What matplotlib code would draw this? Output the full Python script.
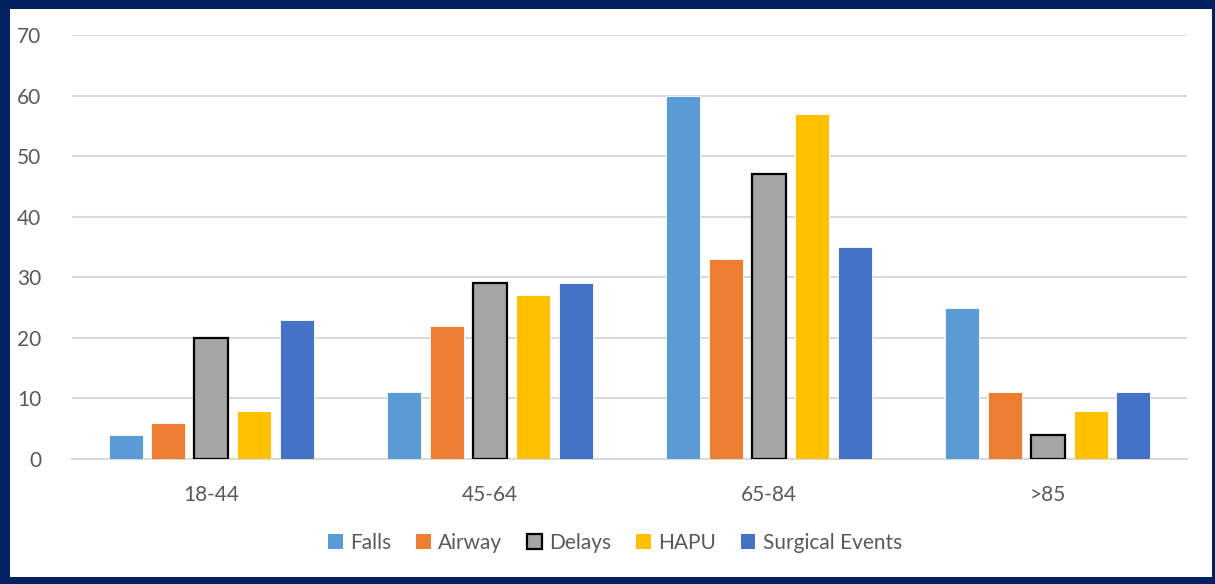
import matplotlib.pyplot as plt
from matplotlib.patches import Rectangle, Patch
import numpy as np

plt.rcParams['font.family'] = ['Lato', 'DejaVu Sans']

categories = ['18-44', '45-64', '65-84', '>85']
series = ['Falls', 'Airway', 'Delays', 'HAPU', 'Surgical Events']
falls = [4, 11, 60, 25]
airway = [6, 22, 33, 11]
delays = [20, 29, 47, 4]
hapu = [8, 27, 57, 8]
surgical = [23, 29, 35, 11]
values = [falls, airway, delays, hapu, surgical]
colors = ['#5B9BD5', '#ED7D31', '#A5A5A5', '#FFC000', '#4472C4']
edges = ['white', 'white', 'black', 'white', 'white']

W, H = 1215, 584
fig = plt.figure(figsize=(W / 100, H / 100), dpi=100)
fig.patch.set_facecolor('#002060')
# white inner panel, navy frame around it
fig.add_artist(Rectangle((10 / W, 7 / H), (1212 - 10) / W, (575 - 7) / H,
                         transform=fig.transFigure, facecolor='white',
                         edgecolor='none', zorder=0))

ax = fig.add_axes([72 / W, 125 / H, (1187 - 72) / W, (459 - 35) / H])
ax.set_facecolor('white')

x = np.arange(len(categories))
step = 0.154
width = 0.122
for i, (name, vals) in enumerate(zip(series, values)):
    off = (i - 2) * step
    lw = 1.6 if edges[i] == 'black' else 0.6
    ax.bar(x + off, vals, width, color=colors[i], edgecolor=edges[i],
           linewidth=lw, zorder=3, label=name)

ax.set_xlim(-0.5, 3.5)
ax.set_ylim(0, 70)
ax.set_yticks(range(0, 71, 10))
ax.set_xticks(x)
ax.set_xticklabels(categories)
ax.yaxis.grid(True, color='#D9D9D9', linewidth=1.5, zorder=0)
ax.set_axisbelow(True)
for s in ['top', 'right', 'left']:
    ax.spines[s].set_visible(False)
ax.spines['bottom'].set_color('#D9D9D9')
ax.spines['bottom'].set_linewidth(1.5)
ax.tick_params(axis='both', length=0, labelsize=15, labelcolor='#595959')
ax.tick_params(axis='y', pad=22)
ax.tick_params(axis='x', pad=19)

handles = [Patch(facecolor=c, edgecolor=('black' if e == 'black' else c),
                 linewidth=(1.6 if e == 'black' else 0)) for c, e in zip(colors, edges)]
fig.legend(handles, series, loc='center', ncol=5,
           bbox_to_anchor=(615 / W, 1 - 543 / H), frameon=False,
           fontsize=15, labelcolor='#595959', handlelength=0.7,
           handleheight=0.7, handletextpad=0.35, columnspacing=1.2)

fig.savefig('out.png', dpi=100, facecolor=fig.get_facecolor())
